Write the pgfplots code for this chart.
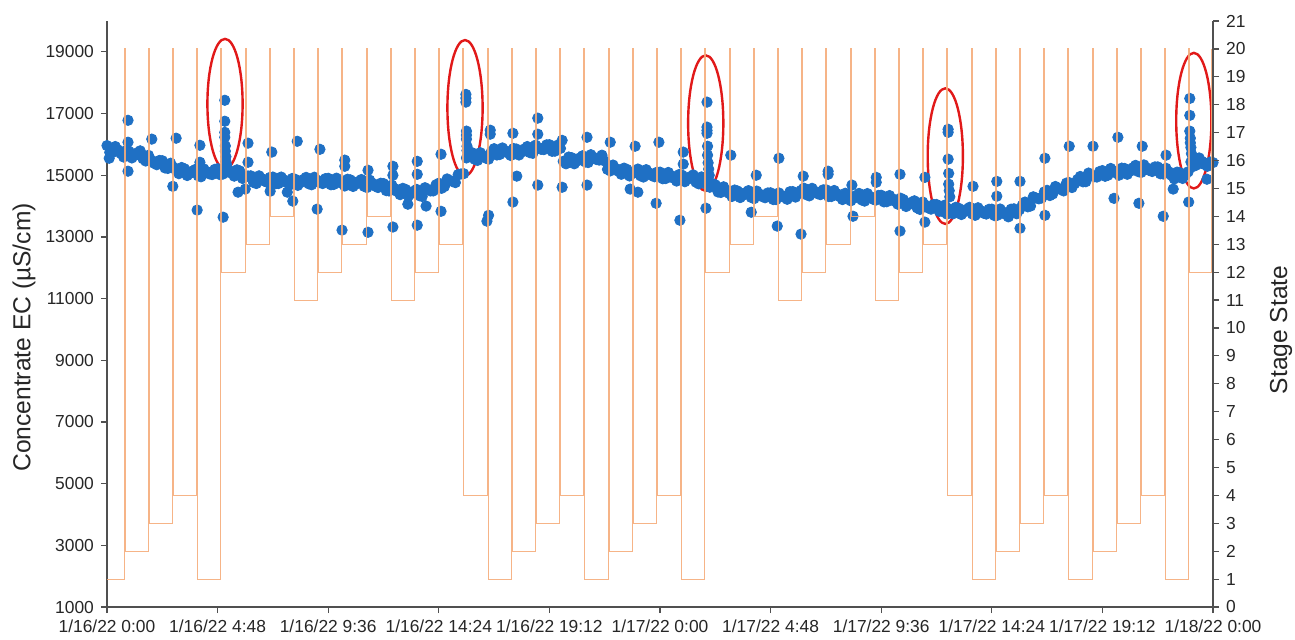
\documentclass[border=0pt]{standalone}
\usepackage{fontspec}
\setmainfont{Liberation Sans}
\usepackage{pgfplots}
\pgfplotsset{compat=1.18}
\usetikzlibrary{shapes.geometric}
\definecolor{ecblue}{RGB}{31,112,196}
\definecolor{stageor}{RGB}{245,172,122}
\definecolor{axgray}{RGB}{80,80,80}
\definecolor{ellred}{RGB}{225,25,25}
\begin{document}
\begin{tikzpicture}
\pgfplotsset{
  common/.style={
    scale only axis, width=553pt, height=293pt,
    at={(0,0)}, anchor=south west,
    xmin=0, xmax=2,
    tick align=outside,
    major tick length=3pt,
    tick style={axgray, line width=0.6pt},
    axis line style={axgray, line width=0.6pt, -},
    tick label style={font=\fontsize{8.7}{10}\selectfont, text=black!85},
    /pgf/number format/assume math mode=true,
    /pgf/number format/1000 sep={},
    scaled y ticks=false,
    label style={font=\fontsize{12.3}{14}\selectfont, text=black!85},
  },
  ec/.style={color=ecblue, only marks, mark=*, mark size=2.6pt, mark options={draw=ecblue, fill=ecblue}},
}
\begin{axis}[common,
  axis x line*=bottom, axis y line*=left,
  ymin=1000, ymax=20000,
  ytick={1000,3000,5000,7000,9000,11000,13000,15000,17000,19000},
  xtick={0,0.2,0.4,0.6,0.8,1.0,1.2,1.4,1.6,1.8,2.0},
  xticklabels={1/16/22 0:00,1/16/22 4:48,1/16/22 9:36,1/16/22 14:24,1/16/22 19:12,1/17/22 0:00,1/17/22 4:48,1/17/22 9:36,1/17/22 14:24,1/17/22 19:12,1/18/22 0:00},
  ylabel={Concentrate EC (µS/cm)},
  ylabel style={at={(axis description cs:-0.075,0.46)}, anchor=center, rotate=0},
]
% dense band of EC readings
\addplot[ec] coordinates {
(0.00,15960)(0.01,15740)(0.02,15820)(0.03,15590)(0.04,15770)(0.05,15640)(0.06,15790)(0.07,15460)(0.08,15490)(0.09,15340)
(0.10,15470)(0.11,15220)(0.12,15260)(0.13,15050)(0.14,15210)(0.15,15060)(0.16,15190)(0.17,14950)(0.18,15120)(0.19,15020)
(0.20,15210)(0.21,15040)(0.22,15160)(0.23,14970)(0.24,15140)(0.25,14940)(0.26,14980)(0.27,14730)(0.28,14890)(0.29,14770)
(0.30,14940)(0.31,14730)(0.32,14850)(0.33,14680)(0.34,14870)(0.35,14760)(0.36,14930)(0.37,14690)(0.38,14840)(0.39,14730)
(0.40,14900)(0.41,14700)(0.42,14810)(0.43,14650)(0.44,14850)(0.45,14710)(0.46,14860)(0.47,14600)(0.48,14740)(0.49,14600)
(0.50,14730)(0.51,14490)(0.52,14570)(0.53,14370)(0.54,14540)(0.55,14400)(0.56,14540)(0.57,14310)(0.58,14540)(0.59,14490)
(0.60,14740)(0.61,14630)(0.62,14830)(0.63,14760)(0.64,15040)(0.65,15560)(0.66,15730)(0.67,15480)(0.68,15640)(0.69,15520)
(0.70,15860)(0.71,15670)(0.72,15800)(0.73,15640)(0.74,15850)(0.75,15750)(0.76,15930)(0.77,15710)(0.78,15900)(0.79,15830)
(0.80,15990)(0.81,15780)(0.82,15870)(0.83,15370)(0.84,15570)(0.85,15460)(0.86,15630)(0.87,15410)(0.88,15580)(0.89,15490)
(0.90,15460)(0.91,15140)(0.92,15220)(0.93,15030)(0.94,15190)(0.95,15050)(0.96,15200)(0.97,14940)(0.98,15080)(0.99,14950)
(1.00,15100)(1.01,14890)(1.02,14990)(1.03,14810)(1.04,15000)(1.05,14870)(1.06,15010)(1.07,14720)(1.08,14830)(1.09,14610)
(1.10,14690)(1.11,14440)(1.12,14510)(1.13,14310)(1.14,14490)(1.15,14350)(1.16,14500)(1.17,14240)(1.18,14390)(1.19,14270)
(1.20,14430)(1.21,14210)(1.22,14340)(1.23,14220)(1.24,14470)(1.25,14400)(1.26,14580)(1.27,14330)(1.28,14480)(1.29,14370)
(1.30,14530)(1.31,14310)(1.32,14400)(1.33,14210)(1.34,14380)(1.35,14250)(1.36,14410)(1.37,14160)(1.38,14310)(1.39,14190)
(1.40,14350)(1.41,14140)(1.42,14240)(1.43,14060)(1.44,14210)(1.45,14050)(1.46,14170)(1.47,13890)(1.48,14030)(1.49,13900)
(1.50,14050)(1.51,13830)(1.52,13930)(1.53,13750)(1.54,13930)(1.55,13810)(1.56,13960)(1.57,13700)(1.58,13850)(1.59,13740)
(1.60,13900)(1.61,13700)(1.62,13810)(1.63,13650)(1.64,13910)(1.65,13880)(1.66,14130)(1.67,14000)(1.68,14260)(1.69,14260)
(1.70,14510)(1.71,14390)(1.72,14580)(1.73,14490)(1.74,14760)(1.75,14730)(1.76,14960)(1.77,14790)(1.78,15010)(1.79,14940)
(1.80,15150)(1.81,15000)(1.82,15140)(1.83,15000)(1.84,15220)(1.85,15130)(1.86,15320)(1.87,15090)(1.88,15240)(1.89,15120)
(1.90,15270)(1.91,15040)(1.92,15110)(1.93,14880)(1.94,15080)(1.95,15000)(1.96,15430)(1.97,15330)(1.98,15450)(1.99,15290)
(2.00,15410)
};
\addplot[ec] coordinates {
(0.005,15740)(0.015,15930)(0.025,15705)(0.035,15800)(0.045,15560)(0.055,15730)(0.065,15535)(0.075,15645)(0.085,15390)(0.095,15480)
(0.105,15235)(0.115,15390)(0.125,15155)(0.135,15250)(0.145,14990)(0.155,15140)(0.165,14980)(0.175,15205)(0.185,15045)(0.195,15190)
(0.205,15015)(0.215,15250)(0.225,15065)(0.235,15175)(0.245,14895)(0.255,14975)(0.265,14765)(0.275,14980)(0.285,14805)(0.295,14930)
(0.305,14725)(0.315,14940)(0.325,14765)(0.335,14895)(0.345,14670)(0.355,14860)(0.365,14720)(0.375,14935)(0.385,14760)(0.395,14890)
(0.405,14690)(0.415,14905)(0.425,14730)(0.435,14870)(0.445,14635)(0.455,14800)(0.465,14640)(0.475,14840)(0.485,14645)(0.495,14740)
(0.505,14500)(0.515,14680)(0.525,14470)(0.535,14575)(0.545,14325)(0.555,14485)(0.565,14335)(0.575,14595)(0.585,14490)(0.595,14690)
(0.605,14575)(0.615,14880)(0.625,14795)(0.635,15020)(0.645,15050)(0.655,15660)(0.665,15515)(0.675,15730)(0.685,15555)(0.695,15765)
(0.705,15655)(0.715,15885)(0.725,15720)(0.735,15865)(0.745,15655)(0.755,15855)(0.765,15730)(0.775,15975)(0.785,15840)(0.795,15985)
(0.805,15775)(0.815,15975)(0.825,15450)(0.835,15590)(0.845,15370)(0.855,15560)(0.865,15430)(0.875,15665)(0.885,15510)(0.895,15650)
(0.905,15190)(0.915,15330)(0.925,15125)(0.935,15230)(0.945,14975)(0.955,15140)(0.965,14980)(0.975,15180)(0.985,14990)(0.995,15100)
(1.005,14885)(1.015,15090)(1.025,14900)(1.035,15025)(1.045,14790)(1.055,14955)(1.065,14775)(1.075,14945)(1.085,14695)(1.095,14725)
(1.105,14455)(1.115,14625)(1.125,14410)(1.135,14520)(1.145,14275)(1.155,14440)(1.165,14280)(1.175,14485)(1.185,14305)(1.195,14425)
(1.205,14210)(1.215,14425)(1.225,14280)(1.235,14465)(1.245,14290)(1.255,14505)(1.265,14365)(1.275,14575)(1.285,14400)(1.295,14525)
(1.305,14310)(1.315,14505)(1.325,14305)(1.335,14415)(1.345,14170)(1.355,14345)(1.365,14195)(1.375,14405)(1.385,14225)(1.395,14345)
(1.405,14135)(1.415,14340)(1.425,14150)(1.435,14255)(1.445,13985)(1.455,14125)(1.465,13940)(1.475,14130)(1.485,13940)(1.495,14050)
(1.505,13830)(1.515,14030)(1.525,13840)(1.535,13960)(1.545,13725)(1.555,13900)(1.565,13740)(1.575,13945)(1.585,13770)(1.595,13895)
(1.605,13690)(1.615,13905)(1.625,13730)(1.635,13900)(1.645,13750)(1.655,14020)(1.665,13975)(1.675,14300)(1.685,14235)(1.695,14460)
(1.705,14340)(1.715,14635)(1.725,14535)(1.735,14745)(1.745,14600)(1.755,14860)(1.765,14785)(1.775,15070)(1.785,14950)(1.795,15120)
(1.805,14965)(1.815,15220)(1.825,15070)(1.835,15230)(1.845,15030)(1.855,15240)(1.865,15115)(1.875,15335)(1.885,15155)(1.895,15270)
(1.905,15045)(1.915,15225)(1.925,14995)(1.935,15100)(1.945,14895)(1.955,15110)(1.965,15290)(1.975,15560)(1.985,15345)(1.995,15425)
};
% spikes after stage changes
\addplot[ec] coordinates {
(0.213,17430)(0.213,16750)(0.213,16390)(0.213,16230)(0.214,15950)(0.214,15780)(0.215,15600)(0.215,15450)(0.216,15350)
(0.649,17620)(0.649,17500)(0.649,17370)(0.650,16430)(0.650,16300)(0.650,16170)(0.651,15940)(0.651,15800)
(1.085,17370)(1.085,16560)(1.085,16450)(1.085,16360)(1.086,15940)(1.086,15650)(1.087,15400)(1.088,15200)(1.089,15000)
(1.521,16490)(1.521,16390)(1.521,15520)(1.522,15060)(1.522,14710)(1.523,14500)(1.524,14300)
(1.958,17490)(1.958,16940)(1.958,16430)(1.959,16200)(1.959,16050)(1.960,15900)(1.961,15700)
};
% scattered readings
\addplot[ec] coordinates {
(0.004,15550)(0.038,16780)(0.038,16070)(0.038,15130)(0.081,16170)(0.119,14640)(0.125,16200)
(0.168,15970)(0.168,15420)(0.163,13870)(0.210,13640)(0.255,16040)(0.255,15420)(0.237,14450)(0.250,14550)
(0.298,15750)(0.295,14480)(0.344,16100)(0.336,14160)(0.326,14450)(0.385,15840)(0.380,13900)
(0.430,15490)(0.430,15290)(0.425,13220)(0.472,15160)(0.472,13150)(0.517,15290)(0.517,15000)(0.517,13320)
(0.561,15450)(0.561,15030)(0.561,13380)(0.544,14060)(0.577,14000)(0.604,15680)(0.604,13830)
(0.693,16460)(0.693,16330)(0.687,13510)(0.690,13700)(0.734,16360)(0.741,14970)(0.734,14130)
(0.779,16850)(0.779,16330)(0.779,14680)(0.823,16130)(0.823,14610)(0.868,16230)(0.868,14680)
(0.910,16070)(0.955,15940)(0.946,14550)(0.960,14450)(0.998,16070)(0.993,14090)
(1.042,15750)(1.042,15360)(1.036,13540)(1.083,13930)(1.128,15650)(1.174,15000)(1.165,13800)
(1.212,13350)(1.215,15550)(1.259,14970)(1.255,13090)(1.304,15130)(1.304,15030)(1.347,14680)(1.349,13670)
(1.391,14930)(1.391,14770)(1.434,15030)(1.434,13190)(1.479,14930)(1.479,13480)(1.519,13740)
(1.566,14640)(1.609,14800)(1.609,14320)(1.651,14800)(1.651,13280)(1.696,15550)(1.696,13700)
(1.740,15940)(1.783,15940)(1.828,16230)(1.821,14250)(1.872,15940)(1.866,14090)
(1.910,13670)(1.915,15650)(1.928,14550)(1.956,14130)(1.989,14870)
};
\node[draw=ellred, line width=1.2pt, ellipse, inner sep=0pt, minimum width=17.6pt, minimum height=65pt] at (axis cs:0.2134,17313) {};
\node[draw=ellred, line width=1.2pt, ellipse, inner sep=0pt, minimum width=17.6pt, minimum height=67.8pt] at (axis cs:0.6474,17184) {};
\node[draw=ellred, line width=1.2pt, ellipse, inner sep=0pt, minimum width=17.6pt, minimum height=67.8pt] at (axis cs:1.0827,16688) {};
\node[draw=ellred, line width=1.2pt, ellipse, inner sep=0pt, minimum width=17.6pt, minimum height=67.8pt] at (axis cs:1.5159,15619) {};
\node[draw=ellred, line width=1.2pt, ellipse, inner sep=0pt, minimum width=17.6pt, minimum height=67.8pt] at (axis cs:1.9653,16769) {};
\end{axis}
\begin{axis}[common,
  axis x line=none, axis y line*=right,
  ymin=0, ymax=21,
  ytick={0,1,...,21},
  ylabel={Stage State},
  ylabel style={at={(axis description cs:1.0615,0.473)}, anchor=center, rotate=0},
]
\addplot[stageor, line width=0.45pt, opacity=0.9] coordinates {
(0,1)
(0.0307,1)(0.0307,20)(0.0325,20)(0.0325,2)
(0.0745,2)(0.0745,20)(0.0763,20)(0.0763,3)
(0.1182,3)(0.1182,20)(0.1200,20)(0.1200,4)
(0.1620,4)(0.1620,20)(0.1638,20)(0.1638,1)
(0.2058,1)(0.2058,20)(0.2076,20)(0.2076,12)
(0.2495,12)(0.2495,20)(0.2513,20)(0.2513,13)
(0.2933,13)(0.2933,20)(0.2951,20)(0.2951,14)
(0.3370,14)(0.3370,20)(0.3388,20)(0.3388,11)
(0.3808,11)(0.3808,20)(0.3826,20)(0.3826,12)
(0.4246,12)(0.4246,20)(0.4264,20)(0.4264,13)
(0.4683,13)(0.4683,20)(0.4701,20)(0.4701,14)
(0.5121,14)(0.5121,20)(0.5139,20)(0.5139,11)
(0.5558,11)(0.5558,20)(0.5576,20)(0.5576,12)
(0.5996,12)(0.5996,20)(0.6014,20)(0.6014,13)
(0.6434,13)(0.6434,20)(0.6452,20)(0.6452,4)
(0.6871,4)(0.6871,20)(0.6889,20)(0.6889,1)
(0.7309,1)(0.7309,20)(0.7327,20)(0.7327,2)
(0.7746,2)(0.7746,20)(0.7764,20)(0.7764,3)
(0.8184,3)(0.8184,20)(0.8202,20)(0.8202,4)
(0.8622,4)(0.8622,20)(0.8640,20)(0.8640,1)
(0.9059,1)(0.9059,20)(0.9077,20)(0.9077,2)
(0.9497,2)(0.9497,20)(0.9515,20)(0.9515,3)
(0.9934,3)(0.9934,20)(0.9952,20)(0.9952,4)
(1.0372,4)(1.0372,20)(1.0390,20)(1.0390,1)
(1.0810,1)(1.0810,20)(1.0828,20)(1.0828,12)
(1.1247,12)(1.1247,20)(1.1265,20)(1.1265,13)
(1.1685,13)(1.1685,20)(1.1703,20)(1.1703,14)
(1.2122,14)(1.2122,20)(1.2140,20)(1.2140,11)
(1.2560,11)(1.2560,20)(1.2578,20)(1.2578,12)
(1.2998,12)(1.2998,20)(1.3016,20)(1.3016,13)
(1.3435,13)(1.3435,20)(1.3453,20)(1.3453,14)
(1.3873,14)(1.3873,20)(1.3891,20)(1.3891,11)
(1.4310,11)(1.4310,20)(1.4328,20)(1.4328,12)
(1.4748,12)(1.4748,20)(1.4766,20)(1.4766,13)
(1.5186,13)(1.5186,20)(1.5204,20)(1.5204,4)
(1.5623,4)(1.5623,20)(1.5641,20)(1.5641,1)
(1.6061,1)(1.6061,20)(1.6079,20)(1.6079,2)
(1.6498,2)(1.6498,20)(1.6516,20)(1.6516,3)
(1.6936,3)(1.6936,20)(1.6954,20)(1.6954,4)
(1.7374,4)(1.7374,20)(1.7392,20)(1.7392,1)
(1.7811,1)(1.7811,20)(1.7829,20)(1.7829,2)
(1.8249,2)(1.8249,20)(1.8267,20)(1.8267,3)
(1.8686,3)(1.8686,20)(1.8704,20)(1.8704,4)
(1.9124,4)(1.9124,20)(1.9142,20)(1.9142,1)
(1.9562,1)(1.9562,20)(1.9580,20)(1.9580,12)
(1.9970,12)(1.9970,20)
};
\end{axis}
\pgfresetboundingbox
\useasboundingbox (-53.5pt,-16pt) rectangle (594pt,303.5pt);
\end{tikzpicture}
\end{document}
